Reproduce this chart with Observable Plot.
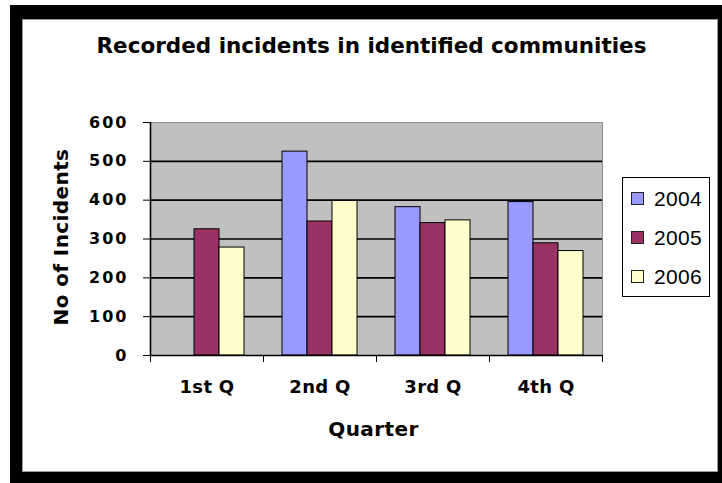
<!DOCTYPE html>
<html>
<head>
<meta charset="utf-8">
<script src="https://cdn.jsdelivr.net/npm/d3@7"></script>
<script src="https://cdn.jsdelivr.net/npm/@observablehq/plot@0.6"></script>
<style>
  html, body { margin: 0; padding: 0; background: #fff; }
  #chart { position: relative; width: 722px; height: 483px; overflow: hidden; }
  #chart svg { position: absolute; left: 0; top: 0; }
  .border {
    position: absolute; left: 10px; top: 5px; width: 712px; height: 478px;
    box-sizing: border-box; border: solid #000; border-width: 14px 4px 11px 12px;
    box-shadow: inset 0 0 0 1px #9a9a9a; pointer-events: none; z-index: 2;
  }
  .title {
    position: absolute; left: 0; width: 743px; top: 33px; text-align: center;
    font: bold 21.5px "DejaVu Sans"; line-height: 26px; color: #000; white-space: nowrap;
  }
  .legend {
    position: absolute; left: 622px; top: 177px; width: 88px; height: 120px;
    box-sizing: border-box; border: 1.5px solid #000; padding-top: 1px; background: #fff;
  }
  .legend .row { height: 39px; display: flex; align-items: center; font: 21px "Liberation Sans"; color: #000; letter-spacing: 0.3px; }
  .legend .sw { width: 13px; height: 13px; box-sizing: border-box; border: 1px solid #222; margin: 0 10px 0 8px; }
  #chart g[aria-label="y-axis tick label"] text { font: bold 16px "DejaVu Sans"; letter-spacing: 2px; }
  #chart g[aria-label="fx-axis tick label"] text { font: bold 18px "DejaVu Sans"; letter-spacing: 0.3px; }
  #chart g[aria-label="text"] text { font: bold 20px "DejaVu Sans"; letter-spacing: 0.4px; }
</style>
</head>
<body>
<div id="chart">
  <div class="title">Recorded incidents in identified communities</div>
  <div class="border"></div>
</div>
<script>
// Incidents per quarter, one array per year
const quarters = ["1st Q", "2nd Q", "3rd Q", "4th Q"];
const years = ["2004", "2005", "2006"];
const incidents2004 = [null, 525, 382, 395];
const incidents2005 = [325, 345, 341, 289];
const incidents2006 = [278, 398, 348, 269];
const yearColors = ["#9999ff", "#993366", "#ffffcc"];
const yTicks = [0, 100, 200, 300, 400, 500, 600];

const series = [incidents2004, incidents2005, incidents2006];
const rows = [];
years.forEach((year, j) => quarters.forEach((quarter, i) => {
  const value = series[j][i];
  if (value != null) rows.push({quarter, year, value});
}));

const halfBand = 113 / 2;   // half the width of one quarter's group
const edge = 31.5;          // from outer bar centre to the group edge

const plot = Plot.plot({
  width: 722,
  height: 483,
  marginTop: 122,
  marginRight: 120,
  marginBottom: 128,
  marginLeft: 150,
  style: {background: "transparent", fontFamily: "DejaVu Sans", color: "#000", overflow: "visible"},
  fx: {domain: quarters, padding: 0},
  x: {domain: years, paddingInner: 0, paddingOuter: 0.76, axis: null},
  y: {domain: [0, 600]},
  color: {domain: years, range: yearColors},
  marks: [
    // grey plot area; neighbouring facets overlap slightly so no seam shows
    Plot.frame({fill: "#c0c0c0", stroke: "none", insetLeft: -0.5, insetRight: -0.5}),
    Plot.ruleY(yTicks.slice(1, -1), {stroke: "#000", strokeWidth: 1.6}),
    Plot.ruleY([600], {stroke: "#8c8c8c"}),
    Plot.barY(rows, {fx: "quarter", x: "year", y: "value", fill: "year", stroke: "#000", strokeWidth: 1}),
    Plot.ruleY([0], {stroke: "#000", strokeWidth: 1.6}),
    Plot.ruleX([quarters[0]], {fx: d => d, x: () => years[0], dx: -edge, stroke: "#000", strokeWidth: 1.6}),
    Plot.ruleX([quarters[3]], {fx: d => d, x: () => years[2], dx: edge, stroke: "#8c8c8c"}),
    Plot.axisY({ticks: yTicks, tickSize: 7, tickPadding: 15, label: null, tickFormat: d => String(d)}),
    Plot.axisFx({anchor: "bottom", tickSize: 7, dx: -halfBand, tickFormat: () => "", label: null}),
    Plot.axisFx({anchor: "bottom", tickSize: 7, dx: halfBand, tickFormat: () => "", label: null}),
    Plot.axisFx({anchor: "bottom", tickSize: 0, tickPadding: 25, label: null}),
    Plot.text([quarters[0]], {
      fx: d => d, text: () => "No of Incidents", frameAnchor: "left", dx: -89, dy: -2,
      rotate: -90, textAnchor: "middle", lineAnchor: "middle"
    }),
    Plot.text([quarters[1]], {
      fx: d => d, text: () => "Quarter", frameAnchor: "bottom-right", dx: -3, dy: 74,
      textAnchor: "middle", lineAnchor: "middle"
    })
  ]
});

const chart = document.getElementById("chart");
chart.insertBefore(plot, chart.firstChild);

// Legend built from the chart's own colour scale
const color = plot.scale("color");
const legend = document.createElement("div");
legend.className = "legend";
color.domain.forEach((year, i) => {
  const row = document.createElement("div");
  row.className = "row";
  const sw = document.createElement("span");
  sw.className = "sw";
  sw.style.background = color.range[i];
  row.appendChild(sw);
  row.appendChild(document.createTextNode(year));
  legend.appendChild(row);
});
chart.appendChild(legend);
</script>
</body>
</html>
